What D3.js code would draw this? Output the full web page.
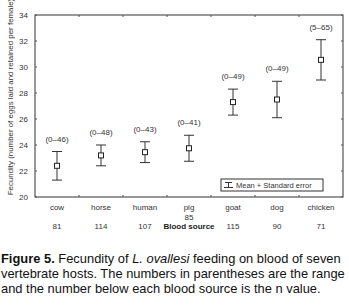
<!DOCTYPE html>
<html lang="en">
<head>
    <meta charset="UTF-8">
    <title>Fecundity</title>
    <script src="https://d3js.org/d3.v7.min.js"></script>
    <style>
        body { margin: 0; background: #fff; }
    </style>
</head>
<body>
    <div id="chart"></div>
    <script>
        var hosts = ['cow', 'horse', 'human', 'pig', 'goat', 'dog', 'chicken'];
        var means = [22.4, 23.2, 23.45, 23.75, 27.3, 27.5, 30.55];
        var stdErr = [1.1, 0.8, 0.8, 1.0, 1.0, 1.4, 1.55];
        var ranges = ['(0\u201346)', '(0\u201348)', '(0\u201343)', '(0\u201341)', '(0\u201349)', '(0\u201349)', '(5\u201365)'];
        var nValues = ['81', '114', '107', '85', '115', '90', '71'];
        var yTicks = [20, 22, 24, 26, 28, 30, 32, 34];

        var width = 349,
            height = 306;
        var plot = { left: 35, right: 343, top: 15, bottom: 197 };

        var svg = d3.select('#chart')
            .append('svg')
            .attr('width', width)
            .attr('height', height)
            .style('font-family', 'Liberation Sans, Arial, sans-serif');

        var x = d3.scaleBand()
            .domain(hosts)
            .range([plot.left, plot.right]);
        var y = d3.scaleLinear()
            .domain([20, 34])
            .range([plot.bottom, plot.top]);

        // frame
        svg.append('rect')
            .attr('x', plot.left)
            .attr('y', plot.top)
            .attr('width', plot.right - plot.left)
            .attr('height', plot.bottom - plot.top)
            .attr('fill', 'none')
            .attr('stroke', '#333')
            .attr('stroke-width', 1);

        // y ticks (inside, both sides)
        var gy = svg.append('g');
        gy.selectAll('.tl').data(yTicks).enter().append('line')
            .attr('x1', plot.left).attr('x2', plot.left + 2)
            .attr('y1', d => y(d)).attr('y2', d => y(d))
            .attr('stroke', '#555');
        gy.selectAll('.tr').data(yTicks).enter().append('line')
            .attr('x1', plot.right - 2).attr('x2', plot.right)
            .attr('y1', d => y(d)).attr('y2', d => y(d))
            .attr('stroke', '#555');
        gy.selectAll('text').data(yTicks).enter().append('text')
            .attr('x', plot.left - 7)
            .attr('y', d => y(d) + 3)
            .attr('text-anchor', 'end')
            .attr('font-size', '8px')
            .attr('fill', '#333')
            .text(d => d);

        // x band boundary ticks
        var bounds = hosts.slice(1).map(h => x(h));
        svg.append('g').selectAll('line').data(bounds).enter().append('line')
            .attr('x1', d => d).attr('x2', d => d)
            .attr('y1', plot.bottom - 2).attr('y2', plot.bottom)
            .attr('stroke', '#555');
        svg.append('g').selectAll('line').data(bounds).enter().append('line')
            .attr('x1', d => d).attr('x2', d => d)
            .attr('y1', plot.top).attr('y2', plot.top + 2)
            .attr('stroke', '#555');

        // category labels and n values
        svg.append('g').selectAll('text').data(hosts).enter().append('text')
            .attr('x', d => x(d) + x.bandwidth() / 2)
            .attr('y', 210)
            .attr('text-anchor', 'middle')
            .attr('font-size', '8px')
            .attr('fill', '#333')
            .text(d => d);
        svg.append('g').selectAll('text').data(nValues).enter().append('text')
            .attr('x', (d, i) => x(hosts[i]) + x.bandwidth() / 2)
            .attr('y', (d, i) => hosts[i] === 'pig' ? 220 : 229)
            .attr('text-anchor', 'middle')
            .attr('font-size', '8px')
            .attr('fill', '#333')
            .text(d => d);

        svg.append('text')
            .attr('x', (plot.left + plot.right) / 2)
            .attr('y', 229)
            .attr('text-anchor', 'middle')
            .attr('font-size', '8px')
            .attr('font-weight', 'bold')
            .attr('fill', '#222')
            .text('Blood source');

        // y axis title
        svg.append('text')
            .attr('transform', 'translate(12.5,97) rotate(-90)')
            .attr('text-anchor', 'middle')
            .attr('font-size', '7.9px')
            .attr('fill', '#333')
            .text('Fecundity (number of eggs laid and retained per female)');

        // error bars
        var bars = svg.append('g').selectAll('g').data(hosts).enter().append('g')
            .attr('transform', d => 'translate(' + (x(d) + x.bandwidth() / 2) + ',0)');
        bars.append('line')
            .attr('x1', 0).attr('x2', 0)
            .attr('y1', (d, i) => y(means[i] + stdErr[i]))
            .attr('y2', (d, i) => y(means[i] - stdErr[i]))
            .attr('stroke', '#333');
        bars.append('line')
            .attr('x1', -5).attr('x2', 5)
            .attr('y1', (d, i) => y(means[i] + stdErr[i]))
            .attr('y2', (d, i) => y(means[i] + stdErr[i]))
            .attr('stroke', '#333');
        bars.append('line')
            .attr('x1', -5).attr('x2', 5)
            .attr('y1', (d, i) => y(means[i] - stdErr[i]))
            .attr('y2', (d, i) => y(means[i] - stdErr[i]))
            .attr('stroke', '#333');
        bars.append('rect')
            .attr('x', -2.5).attr('width', 5)
            .attr('y', (d, i) => y(means[i]) - 2.5).attr('height', 5)
            .attr('fill', '#fff')
            .attr('stroke', '#222');
        bars.append('text')
            .attr('y', (d, i) => y(means[i] + stdErr[i]) - 10)
            .attr('text-anchor', 'middle')
            .attr('font-size', '8px')
            .attr('fill', '#333')
            .text((d, i) => ranges[i]);

        // legend
        var lg = svg.append('g').attr('transform', 'translate(221,179)');
        lg.append('rect')
            .attr('width', 102).attr('height', 12)
            .attr('fill', '#fff').attr('stroke', '#333');
        lg.append('line').attr('x1', 4).attr('x2', 11).attr('y1', 3.5).attr('y2', 3.5).attr('stroke', '#333');
        lg.append('line').attr('x1', 7.5).attr('x2', 7.5).attr('y1', 3.5).attr('y2', 8.5).attr('stroke', '#333');
        lg.append('line').attr('x1', 3).attr('x2', 12).attr('y1', 8.5).attr('y2', 8.5).attr('stroke', '#333');
        lg.append('text')
            .attr('x', 15).attr('y', 9)
            .attr('font-size', '7.5px')
            .attr('fill', '#333')
            .text('Mean + Standard error');

        // caption
        var cap = svg.append('text')
            .attr('font-size', '12.9px')
            .attr('fill', '#111');
        var l1 = cap.append('tspan').attr('x', 1).attr('y', 263);
        l1.append('tspan').attr('font-weight', 'bold').text('Figure 5.');
        l1.append('tspan').text(' Fecundity of ');
        l1.append('tspan').attr('font-style', 'italic').text('L. ovallesi');
        l1.append('tspan').text(' feeding on blood of seven');
        cap.append('tspan').attr('x', 1).attr('y', 278)
            .text('vertebrate hosts. The numbers in parentheses are the range');
        cap.append('tspan').attr('x', 1).attr('y', 293)
            .text('and the number below each blood source is the n value.');
    </script>
</body>
</html>
